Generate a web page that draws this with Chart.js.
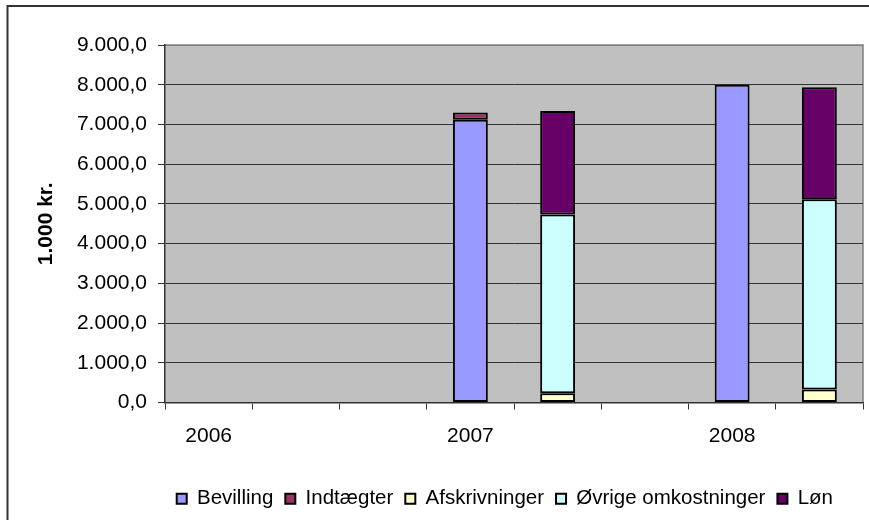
<!DOCTYPE html>
<html>
<head>
<meta charset="utf-8">
<script src="https://cdn.jsdelivr.net/npm/chart.js@4.4.0/dist/chart.umd.min.js"></script>
<style>
  body { margin: 0; background: #fff; }
  #wrap { width: 869px; height: 520px; position: relative; }
</style>
</head>
<body>
<div id="wrap"><canvas id="budgetChart"></canvas></div>
<script>
// kategorier: hvert år har en bevillingssøjle og en udgiftssøjle
var labels = ['2006', '', '', '2007', '', '', '2008', ''];
var bevilling = [null, null, null, 7120, null, null, 8000, null];
var indtaegter = [null, null, null, 180, null, null, null, null];
var afskrivninger = [null, null, null, null, 235, null, null, 330];
var oevrige = [null, null, null, null, 4500, null, null, 4785];
var loen = [null, null, null, null, 2605, null, null, 2820];

var yMin = 0, yMax = 9000, yStep = 1000;
var fontFamily = '"Liberation Sans", Arial, sans-serif';

function dkFormat(v) {
    var s = Math.round(v).toString().replace(/\B(?=(\d{3})+(?!\d))/g, '.');
    return s + ',0';
}

// baggrund, ydre ramme og grå plotområde
var background = {
    id: 'background',
    afterLayout: function (chart) {
        // forklaringen sidder lidt inde fra højre kant
        if (chart.legend) chart.legend.right -= 18;
    },
    beforeDraw: function (chart) {
        var ctx = chart.ctx, a = chart.chartArea;
        ctx.save();
        ctx.fillStyle = '#fff';
        ctx.fillRect(0, 0, chart.width, chart.height);
        ctx.strokeStyle = '#333';
        ctx.lineWidth = 2;
        ctx.beginPath();
        ctx.moveTo(7.5, chart.height + 5);
        ctx.lineTo(7.5, 6);
        ctx.lineTo(chart.width + 5, 6);
        ctx.stroke();
        ctx.fillStyle = '#c0c0c0';
        ctx.fillRect(a.left, a.top, a.right - a.left, a.bottom - a.top);
        ctx.strokeStyle = '#808080';
        ctx.lineWidth = 1.5;
        ctx.beginPath();
        ctx.moveTo(a.left, a.top);
        ctx.lineTo(a.right, a.top);
        ctx.lineTo(a.right, a.bottom);
        ctx.stroke();
        ctx.restore();
    }
};

function ds(label, data, color) {
    return {
        label: label,
        data: data,
        backgroundColor: color,
        borderColor: '#000',
        borderWidth: 2,
        borderSkipped: false,
        barPercentage: 0.4,
        categoryPercentage: 1.0
    };
}

var chartData = {
    labels: labels,
    datasets: [
        ds('Bevilling', bevilling, '#9999ff'),
        ds('Indtægter', indtaegter, '#993366'),
        ds('Afskrivninger', afskrivninger, '#ffffcc'),
        ds('Øvrige omkostninger', oevrige, '#ccffff'),
        ds('Løn', loen, '#660066')
    ]
};

var config = {
    type: 'bar',
    data: chartData,
    plugins: [background],
    options: {
        responsive: true,
        maintainAspectRatio: false,
        animation: false,
        layout: { padding: { left: 0, right: 6, top: 45, bottom: 1 } },
        plugins: {
            tooltip: { enabled: false },
            legend: {
                position: 'bottom',
                align: 'end',
                labels: {
                    boxWidth: 10,
                    boxHeight: 10,
                    padding: 12,
                    color: '#000',
                    font: { family: fontFamily, size: 20.5 }
                }
            }
        },
        scales: {
            x: {
                stacked: true,
                afterFit: function (scale) { scale.height = 74; },
                grid: {
                    offset: true,
                    drawOnChartArea: false,
                    drawTicks: true,
                    tickLength: 7,
                    color: '#333',
                    lineWidth: 1
                },
                border: { color: '#333', width: 1.5 },
                ticks: {
                    autoSkip: false,
                    maxRotation: 0,
                    padding: 14,
                    color: '#000',
                    font: { family: fontFamily, size: 21 }
                }
            },
            y: {
                stacked: true,
                min: yMin,
                max: yMax,
                afterFit: function (scale) { scale.width = 165; },
                grid: {
                    color: function (c) { return c.tick && c.tick.value === yMax ? '#808080' : '#333'; },
                    tickColor: '#333',
                    tickLength: 7,
                    lineWidth: 1
                },
                border: { color: '#333', width: 1.5 },
                ticks: {
                    stepSize: yStep,
                    padding: 11,
                    color: '#000',
                    font: { family: fontFamily, size: 21 },
                    callback: function (v) { return dkFormat(v); }
                },
                title: {
                    display: true,
                    text: '1.000 kr.',
                    color: '#000',
                    padding: { top: 34, bottom: 0 },
                    font: { family: fontFamily, size: 21, weight: 'bold' }
                }
            }
        }
    }
};

var budgetChart = new Chart(document.getElementById('budgetChart'), config);
</script>
</body>
</html>
